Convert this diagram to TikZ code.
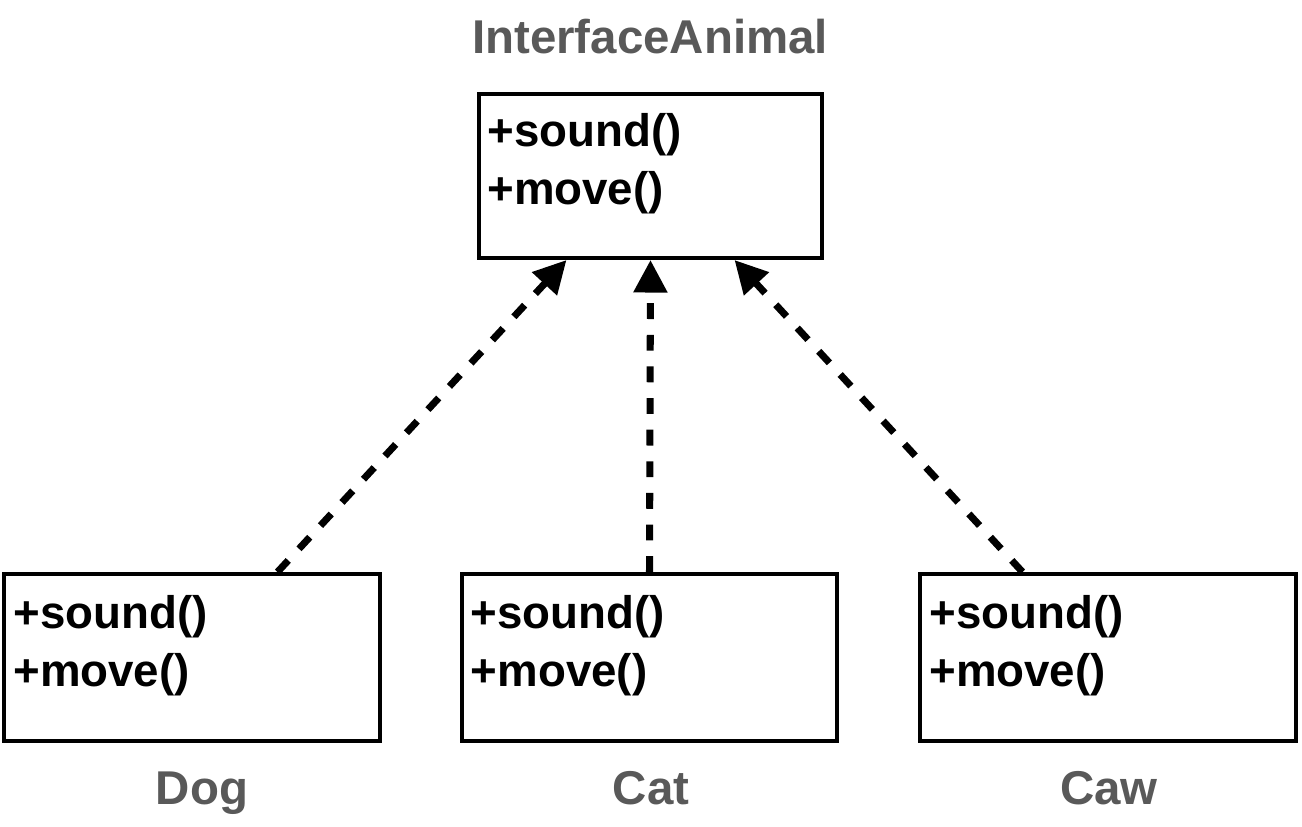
\documentclass[tikz,border=0pt]{standalone}
\usepackage{fontspec}
\setmainfont{Liberation Sans}
\usetikzlibrary{arrows.meta}
\definecolor{namegray}{RGB}{89,89,89}
\tikzstyle{classbox} = [
    rectangle,
    minimum width=7.52cm,
    minimum height=3.34cm,
    line width=2.3pt,
    draw=black,
    inner sep=0pt
]
\tikzstyle{methods} = [
    align=left,
    inner sep=0pt,
    anchor=base west,
    font=\fontsize{26}{32.5}\selectfont\bfseries
]
\tikzstyle{classname} = [
    text=namegray,
    inner sep=0pt,
    anchor=base,
    font=\fontsize{27}{33}\selectfont\bfseries
]
\tikzstyle{realizes} = [
    line width=4pt,
    dash pattern=on 9pt off 9pt,
    -{Triangle[length=18.5pt,width=18.5pt]}
]

\begin{document}
\begin{tikzpicture}[x=0.02cm, y=-0.02cm]

\useasboundingbox (0,0) rectangle (1302,826);

\node (animal) [classbox, minimum width=6.86cm, minimum height=3.28cm] at (650.5,176) {};
\node (animalops) [methods] at ([shift={(10,112)}]animal.north west)
{+sound()\\+move()};
\node (animalname) [classname] at (650,53) {InterfaceAnimal};

\node (dog) [classbox] at (192,657.5) {};
\node (dogops) [methods] at ([shift={(11,114)}]dog.north west)
{+sound()\\+move()};
\node (dogname) [classname] at (202,804) {Dog};

\node (cat) [classbox] at (649.5,657.5) {};
\node (catops) [methods] at ([shift={(11,114)}]cat.north west)
{+sound()\\+move()};
\node (catname) [classname] at (651,804) {Cat};

\node (caw) [classbox] at (1108,657.5) {};
\node (cawops) [methods] at ([shift={(11,114)}]caw.north west)
{+sound()\\+move()};
\node (cawname) [classname] at (1109,804) {Caw};

\draw [realizes] (dog.45) -- (animal.225);
\draw [realizes] (cat.north) -- (animal.south);
\draw [realizes] (caw.135) -- (animal.315);

\end{tikzpicture}
\end{document}
